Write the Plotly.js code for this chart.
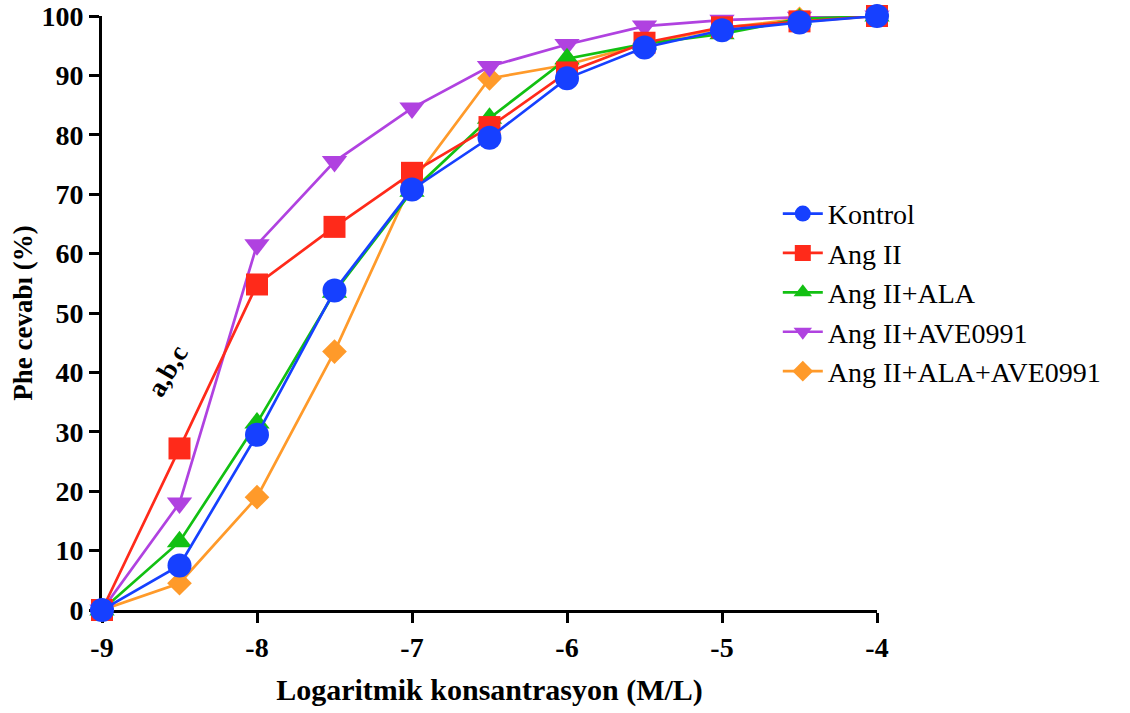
<!DOCTYPE html>
<html><head><meta charset="utf-8">
<script src="https://cdn.plot.ly/plotly-3.0.1.min.js"></script>
<style>html,body{margin:0;padding:0;background:#fff}#c{width:1130px;height:713px}</style>
</head><body><div id="c"></div>
<script>
const xs = [-9, -8.5, -8, -7.5, -7, -6.5, -6, -5.5, -5, -4.5, -4];
const kontrol = [0, 7.5, 29.5, 53.8, 70.8, 79.5, 89.5, 94.7, 97.6, 98.9, 100];
const angII = [0, 27.2, 54.8, 64.5, 73.6, 81.3, 90.5, 95.5, 98.1, 99.1, 100];
const angALA = [0, 11.5, 31.5, 53.5, 70.5, 82.8, 92.8, 95.3, 97.0, 99.5, 100];
const angAVE = [0, 18, 61.5, 75.5, 84.5, 91.5, 95.2, 98.3, 99.3, 99.8, 100];
const angALAAVE = [0, 4.5, 19, 43.5, 72, 89.5, 91.8, 95.3, 98.0, 99.5, 100];
const names = ['Kontrol', 'Ang II', 'Ang II+ALA', 'Ang II+AVE0991', 'Ang II+ALA+AVE0991'];
const xTicks = [-9, -8, -7, -6, -5, -4];
const yTicks = [0, 10, 20, 30, 40, 50, 60, 70, 80, 90, 100];

const series = [kontrol, angII, angALA, angAVE, angALAAVE];
const colors = ['#1640ff', '#ff2a1a', '#12c012', '#b042e0', '#ff9a2a'];
const symbols = ['circle', 'square', 'triangle-up', 'triangle-down', 'diamond'];
const sizes = [24, 22, 22, 22, 19];
const order = [4, 3, 2, 1, 0];

const traces = order.map(i => ({
  x: xs, y: series[i], name: names[i], type: 'scatter', mode: 'lines+markers',
  line: {color: colors[i], width: 2.7},
  marker: {color: colors[i], symbol: symbols[i], size: sizes[i]},
  cliponaxis: false, legendrank: i + 1
}));

const font = 'Liberation Serif, Times New Roman, serif';
const layout = {
  width: 1130, height: 713,
  margin: {l: 102, r: 253, t: 16, b: 103},
  paper_bgcolor: '#fff', plot_bgcolor: '#fff',
  showlegend: true,
  legend: {x: 0.872, y: 0.709, xanchor: 'left', yanchor: 'top',
    font: {family: font, size: 28, color: '#000'}, tracegroupgap: 0,
    itemwidth: 40, traceorder: 'normal', bgcolor: 'rgba(0,0,0,0)'},
  xaxis: {range: [-9, -4], tickvals: xTicks, ticktext: xTicks.map(String),
    showgrid: false, zeroline: false, showline: true, linewidth: 3, linecolor: '#000',
    ticks: 'outside', ticklen: 10, tickwidth: 3, tickcolor: '#000', layer: 'below traces',
    tickfont: {family: font, size: 28, color: '#000', weight: 'bold'},
    title: {text: 'Logaritmik konsantrasyon (M/L)', standoff: 18,
      font: {family: font, size: 30, color: '#000', weight: 'bold'}}},
  yaxis: {range: [0, 100], tickvals: yTicks, ticktext: yTicks.map(String),
    showgrid: false, zeroline: false, showline: true, linewidth: 3, linecolor: '#000',
    ticks: 'outside', ticklen: 10, tickwidth: 3, tickcolor: '#000', layer: 'below traces',
    tickfont: {family: font, size: 28, color: '#000', weight: 'bold'},
    title: {text: 'Phe cevabı (%)', standoff: 1,
      font: {family: font, size: 27, color: '#000', weight: 'bold'}}},
  annotations: [{x: -8.58, y: 40.3, xref: 'x', yref: 'y', text: 'a,b,c', showarrow: false,
    textangle: -60, font: {family: font, size: 27, color: '#000', weight: 'bold'}}]
};
Plotly.newPlot('c', traces, layout, {displayModeBar: false, staticPlot: true});
</script></body></html>
